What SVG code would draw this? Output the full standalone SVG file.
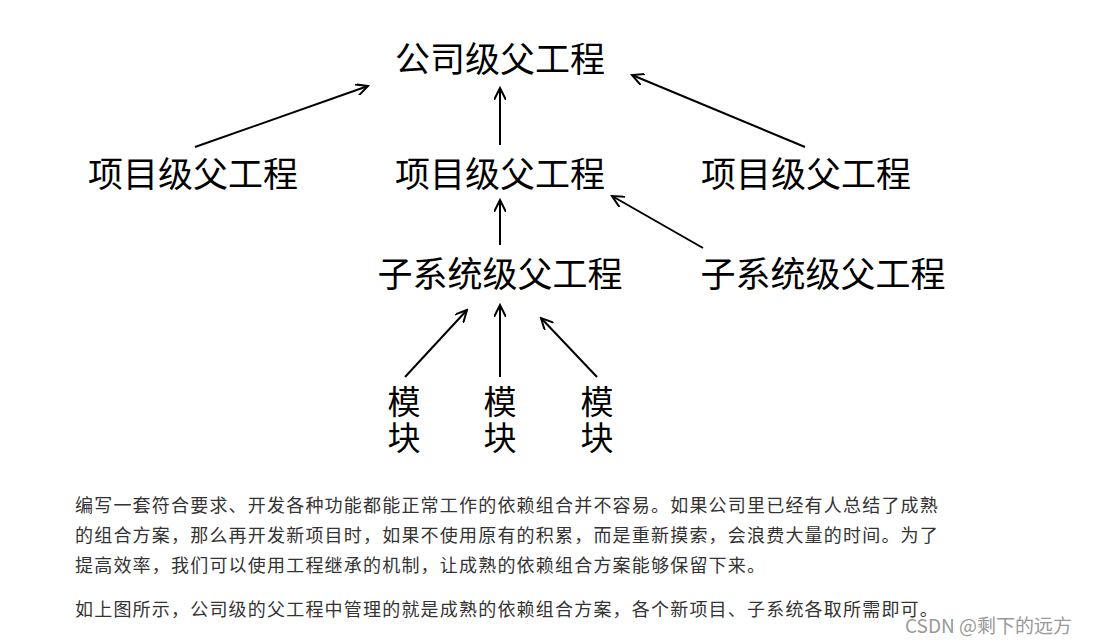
<svg xmlns="http://www.w3.org/2000/svg" width="1094" height="644" viewBox="0 0 1094 644">
<style>
.n{font-family:"Noto Sans CJK SC","Noto Sans",sans-serif;font-size:35px;fill:#000;text-anchor:middle}
.m{font-family:"Noto Sans CJK SC","Noto Sans",sans-serif;font-size:33px;fill:#000;text-anchor:middle}
.p{font-family:"Noto Sans CJK SC","Noto Sans",sans-serif;font-size:18px;letter-spacing:1.2px;fill:#333}
.w{font-family:"Noto Sans CJK SC","Noto Sans",sans-serif;font-size:19px;fill:#999}
line{stroke:#000;stroke-width:2;marker-end:url(#a)}
</style>
<defs><marker id="a" markerWidth="14" markerHeight="12" refX="12" refY="6" orient="auto" markerUnits="userSpaceOnUse"><path d="M0,0 L12,6 L0,12" fill="none" stroke="#000" stroke-width="2"/></marker></defs>
<rect width="1094" height="644" fill="#fff"/>
<g id="n1"><text class="n" x="500" y="72">公司级父工程</text></g>
<g id="n2"><text class="n" x="193" y="187">项目级父工程</text></g>
<g id="n3"><text class="n" x="500" y="187">项目级父工程</text></g>
<g id="n4"><text class="n" x="806" y="187">项目级父工程</text></g>
<g id="n5"><text class="n" x="500" y="287">子系统级父工程</text></g>
<g id="n6"><text class="n" x="823" y="287">子系统级父工程</text></g>
<g id="m1"><text class="m" x="404" y="414">模</text><text class="m" x="404" y="450">块</text></g>
<g id="m2"><text class="m" x="500" y="414">模</text><text class="m" x="500" y="450">块</text></g>
<g id="m3"><text class="m" x="597" y="414">模</text><text class="m" x="597" y="450">块</text></g>
<g id="edges">
<line x1="195" y1="147" x2="368" y2="86"/>
<line x1="500" y1="145" x2="500" y2="88"/>
<line x1="805" y1="147" x2="632" y2="75"/>
<line x1="500" y1="245" x2="500" y2="200"/>
<line x1="703" y1="248" x2="612" y2="196"/>
<line x1="405" y1="377" x2="467" y2="310"/>
<line x1="500" y1="377" x2="500" y2="305"/>
<line x1="597" y1="377" x2="541" y2="318"/>
</g>
<text class="p" x="75" y="512">编写一套符合要求、开发各种功能都能正常工作的依赖组合并不容易。如果公司里已经有人总结了成熟</text>
<text class="p" x="75" y="542">的组合方案，那么再开发新项目时，如果不使用原有的积累，而是重新摸索，会浪费大量的时间。为了</text>
<text class="p" x="75" y="572">提高效率，我们可以使用工程继承的机制，让成熟的依赖组合方案能够保留下来。</text>
<text class="p" x="75" y="616">如上图所示，公司级的父工程中管理的就是成熟的依赖组合方案，各个新项目、子系统各取所需即可。</text>
<text class="w" x="905" y="633">CSDN @剩下的远方</text>
</svg>
